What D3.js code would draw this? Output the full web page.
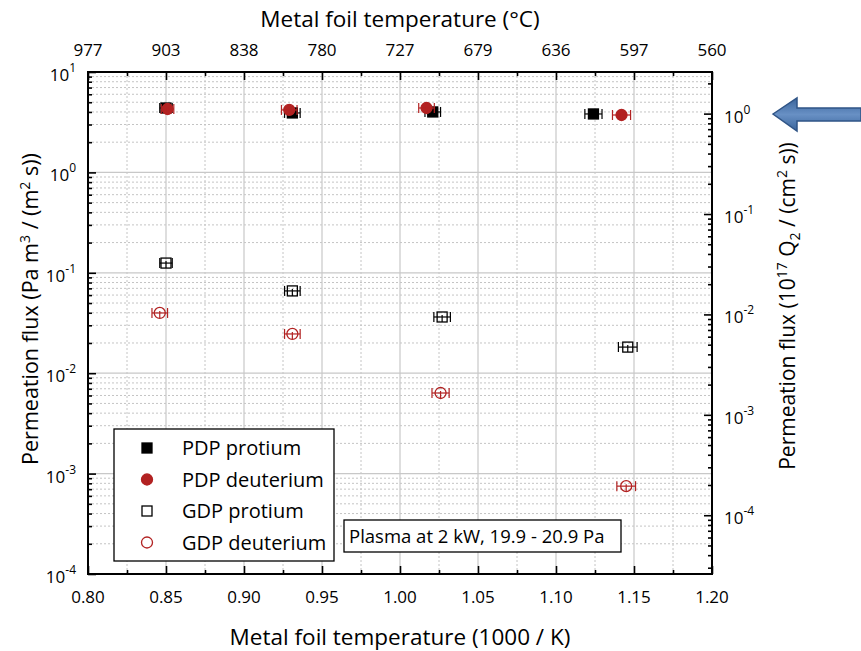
<!DOCTYPE html>
<html>
<head>
<meta charset="utf-8">
<script src="https://cdn.jsdelivr.net/npm/d3@7"></script>
<style>
body{margin:0;background:#fff;}
svg{font-family:'Open Sans',sans-serif;}
.grid-major{stroke:#c8c8c8;stroke-width:1.2;}
.grid-minor{stroke:#c4c4c4;stroke-width:1;stroke-dasharray:2,2;}
</style>
</head>
<body>
<svg id="chart" width="861" height="651"></svg>
<script>
/* data */
const pdp_protium_x = [0.850, 0.931, 1.021, 1.124]
const pdp_protium_y = [4.38, 3.91, 4.00, 3.82]
const pdp_protium_xerr = [0.004, 0.005, 0.005, 0.0055]

const pdp_deuterium_x = [0.851, 0.929, 1.017, 1.142]
const pdp_deuterium_y = [4.28, 4.19, 4.38, 3.73]
const pdp_deuterium_xerr = [0.004, 0.005, 0.005, 0.0058]

const gdp_protium_x = [0.850, 0.931, 1.027, 1.146]
const gdp_protium_y = [0.125, 0.066, 0.0363, 0.0182]
const gdp_protium_xerr = [0.004, 0.005, 0.0053, 0.006]

const gdp_deuterium_x = [0.846, 0.931, 1.026, 1.145]
const gdp_deuterium_y = [0.0398, 0.0246, 0.00635, 0.00075]
const gdp_deuterium_xerr = [0.005, 0.005, 0.0055, 0.006]

const x_ticks = [0.80, 0.85, 0.90, 0.95, 1.00, 1.05, 1.10, 1.15, 1.20]
const x_tick_labels = ['0.80','0.85','0.90','0.95','1.00','1.05','1.10','1.15','1.20']
const top_tick_labels = ['977','903','838','780','727','679','636','597','560']
const left_decades = [1, 0, -1, -2, -3, -4]
const right_decades = [0, -1, -2, -3, -4]
const right_factor = 3.85 // Pa m3/(m2 s) per 1e17 Q2/(cm2 s)

const legend_names = ['PDP protium','PDP deuterium','GDP protium','GDP deuterium']
const note_text = 'Plasma at 2 kW, 19.9 - 20.9 Pa'

const red = '#b22222'

let margin = {top:72, left:88, right:149, bottom:77}
let width = 861 - margin.left - margin.right
let height = 651 - margin.top - margin.bottom

const svg = d3.select('#chart')

const xScale = d3.scaleLinear().domain([0.80,1.20]).range([0,width])
const yScale = d3.scaleLog().domain([1e-4,10]).range([height,0])
const yRight = d3.scaleLog().domain([1e-4/right_factor,10/right_factor]).range([height,0])

const chart = svg.append('g').attr('transform',`translate(${margin.left},${margin.top})`)

/* grid */
const minors = (dom)=>{
	let out = []
	let lo = Math.floor(Math.log10(dom[0])), hi = Math.ceil(Math.log10(dom[1]))
	for(let e=lo;e<hi;e++){
		for(let m=2;m<=9;m++){
			let v = m*Math.pow(10,e)
			if(v>dom[0]*1.0001 && v<dom[1]*0.9999) out.push(v)
		}
	}
	return out
}
const x_minor = d3.range(0.825,1.2,0.05)

chart.selectAll('.gy-minor').data(minors(yScale.domain())).enter().append('line')
	.classed('grid-minor',true)
	.attr('x1',0).attr('x2',width)
	.attr('y1',d=>yScale(d)).attr('y2',d=>yScale(d))
chart.selectAll('.gx-minor').data(x_minor).enter().append('line')
	.classed('grid-minor',true)
	.attr('y1',0).attr('y2',height)
	.attr('x1',d=>xScale(d)).attr('x2',d=>xScale(d))
chart.selectAll('.gy-major').data(left_decades.slice(1,-1)).enter().append('line')
	.classed('grid-major',true)
	.attr('x1',0).attr('x2',width)
	.attr('y1',d=>yScale(Math.pow(10,d))).attr('y2',d=>yScale(Math.pow(10,d)))
chart.selectAll('.gx-major').data(x_ticks.slice(1,-1)).enter().append('line')
	.classed('grid-major',true)
	.attr('y1',0).attr('y2',height)
	.attr('x1',d=>xScale(d)).attr('x2',d=>xScale(d))

/* axes, ticks pointing inward */
const tickOpts = (ax)=>ax.tickSizeOuter(0).tickFormat('')

chart.append('g').attr('transform',`translate(0,${height})`)
	.call(tickOpts(d3.axisTop(xScale).tickValues(x_ticks).tickSizeInner(8)))
chart.append('g').attr('transform',`translate(0,${height})`)
	.call(tickOpts(d3.axisTop(xScale).tickValues(x_minor).tickSizeInner(4)))
chart.append('g')
	.call(tickOpts(d3.axisBottom(xScale).tickValues(x_ticks).tickSizeInner(8)))
chart.append('g')
	.call(tickOpts(d3.axisBottom(xScale).tickValues(x_minor).tickSizeInner(4)))
chart.append('g')
	.call(tickOpts(d3.axisRight(yScale).tickValues(left_decades.map(e=>Math.pow(10,e))).tickSizeInner(8)))
chart.append('g')
	.call(tickOpts(d3.axisRight(yScale).tickValues(minors(yScale.domain())).tickSizeInner(4)))
chart.append('g').attr('transform',`translate(${width},0)`)
	.call(tickOpts(d3.axisLeft(yRight).tickValues(right_decades.map(e=>Math.pow(10,e))).tickSizeInner(8)))
chart.append('g').attr('transform',`translate(${width},0)`)
	.call(tickOpts(d3.axisLeft(yRight).tickValues(minors(yRight.domain())).tickSizeInner(4)))

chart.selectAll('.domain').remove()
chart.selectAll('.tick line').attr('stroke','#000').attr('stroke-width',1.6)

chart.append('rect')
	.attr('width',width).attr('height',height)
	.attr('fill','none').attr('stroke','#000').attr('stroke-width',2)

/* tick labels */
chart.selectAll('.xlab').data(x_ticks).enter().append('text')
	.attr('x',d=>xScale(d)).attr('y',height+29)
	.attr('text-anchor','middle').attr('font-size',17)
	.text((d,i)=>x_tick_labels[i])
chart.selectAll('.toplab').data(x_ticks).enter().append('text')
	.attr('x',d=>xScale(d)).attr('y',-16)
	.attr('text-anchor','middle').attr('font-size',17)
	.text((d,i)=>top_tick_labels[i])

const pow_label = (sel)=>{
	sel.append('tspan').text('10')
	sel.append('tspan').text(d=>d).attr('dy',-9).attr('font-size',12)
}
chart.selectAll('.ylab').data(left_decades).enter().append('text')
	.attr('x',-12).attr('y',d=>yScale(Math.pow(10,d))+9)
	.attr('text-anchor','end').attr('font-size',17)
	.call(pow_label)
chart.selectAll('.rlab').data(right_decades).enter().append('text')
	.attr('x',width+12).attr('y',d=>yRight(Math.pow(10,d))+9)
	.attr('text-anchor','start').attr('font-size',17)
	.call(pow_label)

/* axis titles */
svg.append('text')
	.attr('x',margin.left+width/2).attr('y',27)
	.attr('text-anchor','middle').attr('font-size',22.5)
	.text('Metal foil temperature (°C)')
svg.append('text')
	.attr('x',margin.left+width/2).attr('y',645)
	.attr('text-anchor','middle').attr('font-size',22.5)
	.text('Metal foil temperature (1000 / K)')

const lt = svg.append('text')
	.attr('transform',`translate(38,${margin.top+height/2-14}) rotate(-90)`)
	.attr('text-anchor','middle').attr('font-size',21.5)
lt.append('tspan').text('Permeation flux (Pa m')
lt.append('tspan').text('3').attr('dy',-8).attr('font-size',14)
lt.append('tspan').text(' / (m').attr('dy',8)
lt.append('tspan').text('2').attr('dy',-8).attr('font-size',14)
lt.append('tspan').text(' s))').attr('dy',8)

const rt = svg.append('text')
	.attr('transform',`translate(795,${margin.top+height/2-17}) rotate(-90)`)
	.attr('text-anchor','middle').attr('font-size',21)
rt.append('tspan').text('Permeation flux (10')
rt.append('tspan').text('17').attr('dy',-8).attr('font-size',14)
rt.append('tspan').text(' Q').attr('dy',8)
rt.append('tspan').text('2').attr('dy',5).attr('font-size',14)
rt.append('tspan').text(' / (cm').attr('dy',-5)
rt.append('tspan').text('2').attr('dy',-8).attr('font-size',14)
rt.append('tspan').text(' s))').attr('dy',8)

/* series */
const series = [
	{x:gdp_protium_x, y:gdp_protium_y, xe:gdp_protium_xerr, shape:'square', fill:'none', color:'#000'},
	{x:gdp_deuterium_x, y:gdp_deuterium_y, xe:gdp_deuterium_xerr, shape:'circle', fill:'none', color:red},
	{x:pdp_protium_x, y:pdp_protium_y, xe:pdp_protium_xerr, shape:'square', fill:'#000', color:'#000'},
	{x:pdp_deuterium_x, y:pdp_deuterium_y, xe:pdp_deuterium_xerr, shape:'circle', fill:red, color:red},
]

const draw_marker = (g,shape,fill,color,cx,cy)=>{
	if(shape=='square'){
		g.append('rect').attr('x',cx-5).attr('y',cy-5).attr('width',10).attr('height',10)
			.attr('fill',fill).attr('stroke',color).attr('stroke-width',1.3)
	}else{
		g.append('circle').attr('cx',cx).attr('cy',cy).attr('r',5.5)
			.attr('fill',fill).attr('stroke',color).attr('stroke-width',1.3)
	}
}

for(let s of series){
	const g = chart.append('g')
	const filled = s.fill!='none'
	s.x.forEach((xv,i)=>{
		let cx = xScale(xv), cy = yScale(s.y[i])
		let x0 = xScale(xv - s.xe[i]), x1 = xScale(xv + s.xe[i])
		if(filled) draw_marker(g,s.shape,s.fill,s.color,cx,cy)
		const bar = (a,b,c,d)=>g.append('line').attr('x1',a).attr('x2',b).attr('y1',c).attr('y2',d)
			.attr('stroke',s.color).attr('stroke-width',1.2)
		bar(x0,x1,cy,cy)
		bar(x0,x0,cy-5,cy+5)
		bar(x1,x1,cy-5,cy+5)
		bar(cx,cx,cy-2,cy+5)
		if(!filled) draw_marker(g,s.shape,'none',s.color,cx,cy)
	})
}

/* legend */
const legend = svg.append('g').attr('transform','translate(114,429)')
legend.append('rect').attr('width',220).attr('height',132)
	.attr('fill','#fff').attr('stroke','#000').attr('stroke-width',1.3)
const leg_styles = [
	['square','#000','#000'],
	['circle',red,red],
	['square','#fff','#000'],
	['circle','#fff',red],
]
legend_names.forEach((name,i)=>{
	let cy = 19 + i*31.5
	draw_marker(legend,leg_styles[i][0],leg_styles[i][1],leg_styles[i][2],33,cy)
	legend.append('text').attr('x',68).attr('y',cy+7)
		.attr('font-size',20).text(name)
})

/* note */
const note = svg.append('g').attr('transform','translate(344,520)')
note.append('rect').attr('width',277).attr('height',32)
	.attr('fill','#fff').attr('stroke','#000').attr('stroke-width',1.3)
note.append('text').attr('x',5).attr('y',23).attr('font-size',18.5).text(note_text)

/* arrow at right edge */
const defs = svg.append('defs')
const grad = defs.append('linearGradient').attr('id','ag').attr('x1',0).attr('x2',0).attr('y1',0).attr('y2',1)
grad.append('stop').attr('offset','0%').attr('stop-color','#3a659c')
grad.append('stop').attr('offset','50%').attr('stop-color','#6890c4')
grad.append('stop').attr('offset','100%').attr('stop-color','#3a659c')
svg.append('path')
	.attr('d','M773,114 L797,98 L797,108 L861,108 L861,121 L797,121 L797,131 Z')
	.attr('fill','url(#ag)').attr('stroke','#2f5486').attr('stroke-width',1.5)
</script>
</body>
</html>
